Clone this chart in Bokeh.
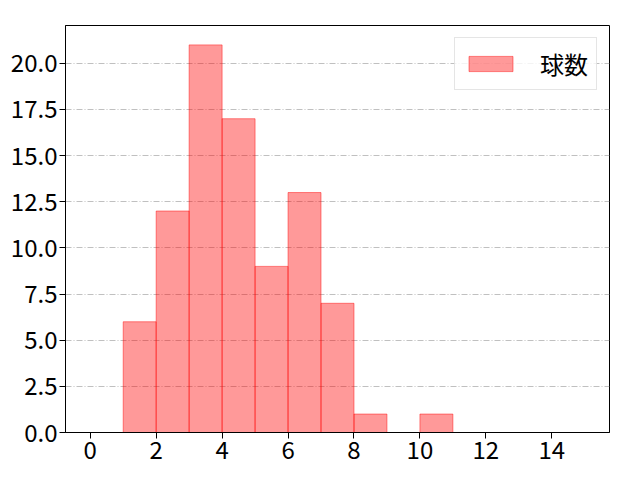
from bokeh.plotting import figure
from bokeh.models import FixedTicker, PrintfTickFormatter, Range1d, Legend, LegendItem
from bokeh.embed import file_html
from bokeh.resources import INLINE

bin_left = [0, 1, 2, 3, 4, 5, 6, 7, 8, 9, 10, 11, 12, 13, 14]
counts = [0, 6, 12, 21, 17, 9, 13, 7, 1, 0, 1, 0, 0, 0, 0]
bin_right = [b + 1 for b in bin_left]
x_ticks = [0, 2, 4, 6, 8, 10, 12, 14]
y_ticks = [0.0, 2.5, 5.0, 7.5, 10.0, 12.5, 15.0, 17.5, 20.0]
label = "球数"

FONT = "Noto Sans CJK JP"

p = figure(width=624, height=464, output_backend="svg", toolbar_location=None,
           x_range=Range1d(-0.75, 15.75), y_range=Range1d(0, 22.05),
           frame_width=544, frame_height=407,
           min_border_left=65, min_border_right=15, min_border_top=25, min_border_bottom=32)

r = p.quad(left=bin_left, right=bin_right, bottom=0, top=counts,
           fill_color="#ff0000", fill_alpha=0.4, line_color="#ff0000", line_alpha=0.45, line_width=1)

p.xgrid.visible = False
p.ygrid.grid_line_color = "#b0b0b0"
p.ygrid.grid_line_dash = "6 2 1 2"
p.ygrid.grid_line_width = 0.8

p.xaxis.ticker = FixedTicker(ticks=x_ticks)
p.yaxis.ticker = FixedTicker(ticks=y_ticks)
p.yaxis.formatter = PrintfTickFormatter(format="%.1f")
for ax in (p.xaxis, p.yaxis):
    ax.major_label_text_font = FONT
    ax.major_label_text_font_size = "24px"
    ax.major_label_text_color = "black"
    ax.minor_tick_line_color = None
    ax.major_tick_in = 0
    ax.major_tick_out = 6
    ax.major_label_standoff = 2
    ax.axis_line_color = "black"
    ax.major_tick_line_color = "black"

p.outline_line_color = "black"
p.outline_line_width = 1
p.outline_line_alpha = 1

legend = Legend(items=[LegendItem(label=label, renderers=[r])], location="top_right")
legend.label_text_font = FONT
legend.label_text_font_size = "24px"
legend.label_text_color = "black"
legend.glyph_width = 55
legend.glyph_height = 19
legend.label_standoff = 22
legend.padding = 8
legend.margin = 12
legend.border_line_color = "#cccccc"
legend.border_line_width = 1
legend.background_fill_alpha = 0.8
p.add_layout(legend)

open("out.html", "w").write(file_html(p, INLINE))
